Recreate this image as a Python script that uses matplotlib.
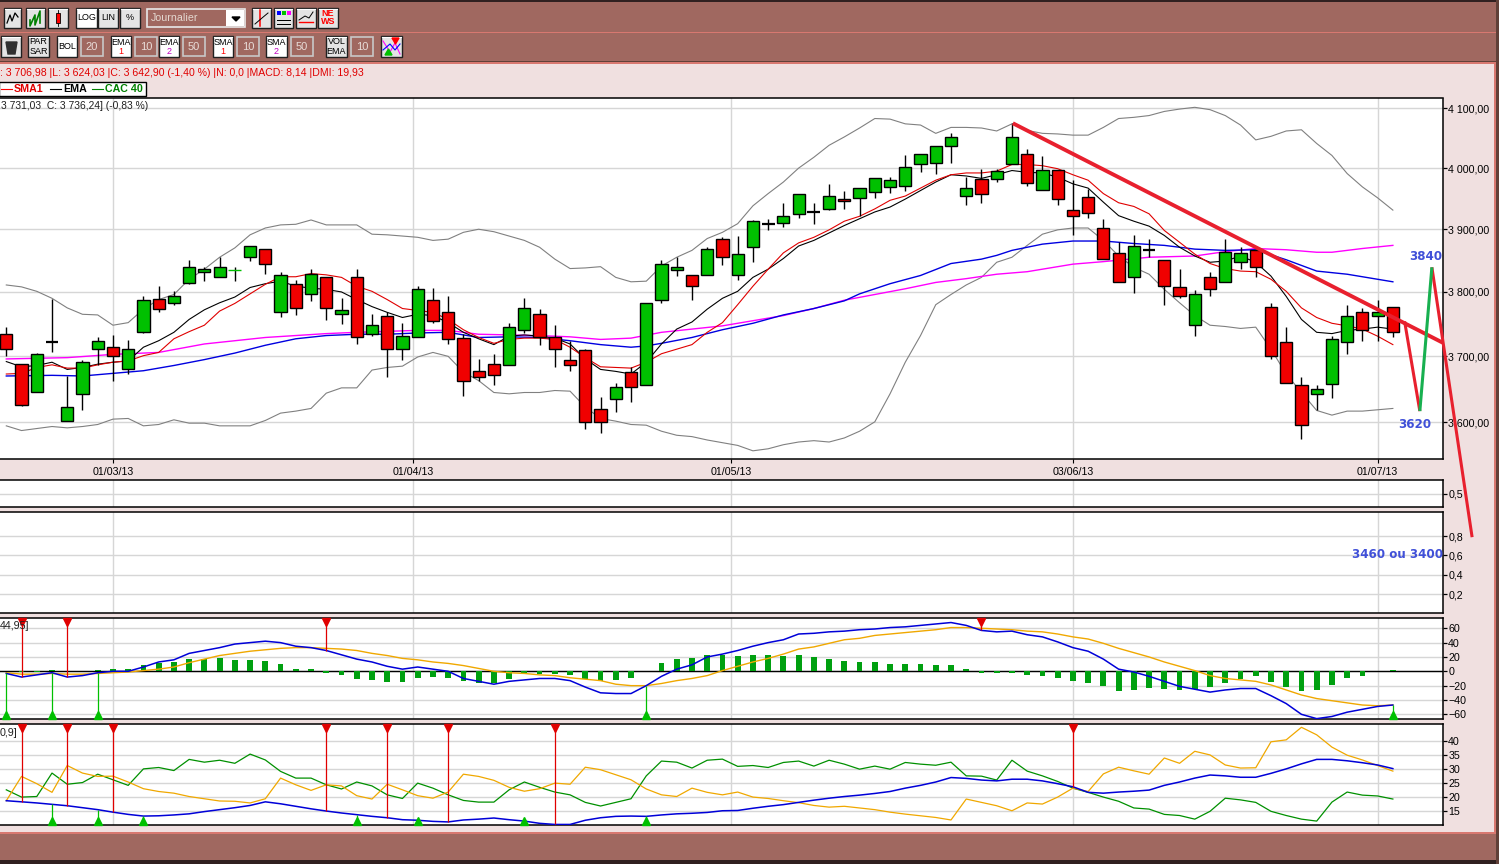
# CAC 40 daily screen : candles, bollinger, moving averages, MACD and DMI panels
import matplotlib
matplotlib.use("Agg")
import matplotlib.pyplot as plt
from matplotlib.patches import Rectangle

plt.rcParams["font.family"] = ["Liberation Sans", "DejaVu Sans"]

# candles, oldest first
opens = [3734,3688,3646,3722,3602,3642,3711,3714,3680,3738,
         3789,3782,3814,3832,3823,3835,3855,3869,3769,3813,
         3797,3823,3766,3824,3735,3763,3711,3729,3788,3768,
         3728,3677,3689,3686,3740,3766,3729,3694,3709,3620,
         3635,3676,3656,3788,3835,3827,3827,3884,3826,3871,
         3909,3910,3925,3928,3933,3949,3951,3961,3969,3971,
         4007,4008,4037,3954,3982,3982,4007,4023,3964,3997,
         3931,3952,3902,3861,3824,3866,3850,3808,3748,3823,
         3816,3847,3866,3777,3722,3656,3642,3658,3722,3768,
         3763,3777]
closes = [3711,3626,3704,3722,3623,3692,3723,3700,3711,3788,
          3774,3794,3840,3837,3840,3835,3873,3844,3826,3775,
          3829,3775,3771,3729,3749,3712,3732,3805,3755,3726,
          3663,3668,3671,3745,3775,3729,3711,3686,3600,3600,
          3653,3653,3783,3844,3840,3810,3869,3856,3860,3913,
          3909,3921,3957,3928,3954,3946,3967,3984,3980,4002,
          4023,4037,4052,3967,3957,3995,4052,3975,3997,3949,
          3921,3926,3853,3815,3873,3866,3810,3794,3797,3805,
          3864,3861,3839,3700,3659,3596,3650,3726,3763,3740,
          3768,3737]
highs = [3745,3689,3705,3789,3670,3694,3730,3733,3725,3793,
         3809,3802,3850,3839,3855,3840,3873,3869,3832,3819,
         3836,3823,3791,3837,3765,3768,3751,3810,3807,3794,
         3735,3696,3704,3751,3790,3774,3748,3723,3712,3638,
         3659,3683,3783,3850,3855,3827,3871,3887,3889,3915,
         3917,3942,3957,3943,3973,3963,3967,3984,3986,4021,
         4023,4037,4059,3985,3998,3998,4075,4031,4020,3997,
         3980,3966,3916,3879,3891,3885,3850,3836,3803,3831,
         3884,3871,3868,3783,3745,3668,3656,3731,3780,3775,
         3787,3777]
lows = [3701,3624,3645,3706,3602,3619,3687,3662,3673,3736,
        3769,3779,3812,3817,3823,3817,3849,3828,3761,3764,
        3786,3756,3750,3719,3732,3669,3695,3729,3752,3719,
        3639,3662,3656,3686,3736,3717,3684,3678,3590,3585,
        3615,3631,3656,3783,3825,3787,3827,3843,3819,3848,
        3898,3904,3919,3909,3931,3933,3922,3950,3959,3963,
        3993,3991,4009,3940,3942,3977,4006,3970,3964,3939,
        3890,3919,3853,3815,3799,3855,3779,3790,3732,3793,
        3815,3836,3824,3696,3659,3576,3619,3637,3704,3724,
        3724,3730]

# bollinger bands
boll_up = [3811,3808,3801,3790,3775,3765,3764,3748,3752,3773,
           3788,3796,3820,3836,3855,3870,3891,3902,3907,3908,
           3915,3907,3907,3907,3892,3891,3889,3887,3882,3884,
           3895,3900,3896,3889,3882,3871,3852,3837,3838,3840,
           3823,3816,3817,3841,3855,3866,3885,3895,3909,3938,
           3958,3977,4000,4018,4038,4052,4067,4083,4082,4074,
           4072,4058,4068,4068,4067,4062,4074,4063,4058,4057,
           4055,4055,4068,4083,4085,4088,4095,4099,4102,4098,
           4088,4072,4047,4053,4062,4064,4041,4021,3991,3969,
           3951,3931]
boll_low = [3595,3588,3591,3594,3592,3594,3597,3605,3606,3595,
            3597,3604,3599,3599,3595,3595,3595,3603,3614,3617,
            3621,3644,3652,3652,3679,3683,3685,3699,3706,3700,
            3676,3663,3645,3643,3645,3645,3648,3647,3623,3606,
            3602,3597,3596,3587,3581,3579,3574,3570,3566,3558,
            3561,3567,3571,3573,3571,3577,3587,3601,3643,3691,
            3732,3780,3796,3811,3823,3847,3855,3874,3892,3899,
            3902,3902,3882,3857,3839,3828,3804,3783,3763,3748,
            3746,3743,3745,3711,3673,3645,3618,3611,3617,3617,
            3619,3621]

# short averages, one value per candle
sma_10 = [3673,3674,3683,3687,3682,3682,3687,3691,3693,3701,
          3706,3727,3738,3748,3770,3782,3797,3812,3824,3824,
          3829,3827,3823,3809,3801,3788,3774,3771,3768,3757,
          3741,3729,3720,3726,3728,3728,3726,3714,3698,3684,
          3683,3682,3691,3704,3711,3718,3737,3752,3780,3809,
          3836,3862,3878,3887,3899,3913,3921,3933,3947,3954,
          3967,3980,3989,3992,3992,3995,4006,4006,4004,3999,
          3989,3980,3958,3943,3937,3925,3898,3879,3860,3845,
          3837,3833,3832,3820,3801,3775,3760,3751,3747,3742,
          3731,3718]
ema_10 = [3692,3684,3686,3691,3680,3683,3688,3691,3693,3714,
          3724,3737,3757,3772,3783,3792,3807,3813,3817,3809,
          3806,3804,3800,3788,3777,3768,3760,3765,3763,3752,
          3737,3727,3718,3731,3733,3731,3728,3719,3696,3680,
          3677,3673,3691,3719,3742,3753,3773,3790,3801,3823,
          3836,3853,3873,3882,3894,3906,3917,3928,3936,3949,
          3963,3977,3989,3987,3983,3989,3996,3993,3992,3985,
          3974,3967,3944,3922,3913,3905,3890,3871,3857,3847,
          3849,3857,3847,3825,3793,3757,3737,3735,3740,3742,
          3745,3742]

# long averages, read at every other candle or so
ema_50_idx = [0,3,5,7,9,11,13,15,17,19,21,23,25,27,29,31,33,35,37,39,41,42,43,45,47,49,
              51,53,55,56,58,60,62,64,65,66,68,70,72,74,76,78,80,82,84,86,88,90,91]
ema_50 = [3670,3671,3670,3674,3678,3686,3695,3705,3717,3727,3732,3734,3734,3736,3737,3729,
          3730,3729,3724,3718,3714,3716,3720,3729,3741,3751,3764,3774,3786,3797,3813,3826,
          3845,3852,3858,3866,3876,3881,3881,3877,3874,3868,3866,3867,3851,3833,3828,3820,3816]
sma_50_idx = [0,4,7,9,10,13,15,17,19,21,23,27,29,31,33,36,37,39,41,43,45,47,49,51,53,55,57,
              59,61,63,65,67,70,72,75,78,80,82,84,86,87,89,91]
sma_50 = [3696,3698,3703,3705,3706,3719,3724,3729,3732,3735,3737,3740,3740,3734,3733,3731,
          3730,3726,3728,3737,3742,3747,3755,3763,3774,3787,3796,3805,3815,3821,3828,3832,
          3844,3848,3855,3857,3864,3869,3867,3863,3863,3869,3874]

# hand drawn trend line and wave count
trend_idx = [66.06, 94.27]
trend_val = [4075, 3721]
down_idx = [91.77, 92.77]
down_val = [3754, 3617]
up_idx = [92.77, 93.56]
up_val = [3617, 3839]
drop_idx = [93.56, 96.2]
drop_val = [3839, 3433]

# MACD panel
macd = [-3,-8,-5,-2,-8,-6,-2,0,0,6,13,16,25,29,33,38,40,42,40,35,
        33,29,23,17,13,7,3,6,3,0,-10,-14,-18,-14,-12,-10,-10,-13,-22,-30,
        -31,-31,-20,-7,3,9,20,24,29,35,40,44,52,53,55,56,58,59,61,62,
        64,66,68,64,57,55,56,51,48,41,33,28,17,3,-1,-7,-14,-21,-25,-29,
        -26,-24,-24,-34,-45,-60,-66,-63,-57,-53,-49,-47]
signal = [-2,-4,-4,-3,-4,-4,-3,-2,-1,1,3,6,12,17,22,25,28,30,32,33,
          33,32,31,29,25,22,18,16,13,11,8,4,0,-2,-3,-5,-6,-9,-11,-13,
          -18,-20,-20,-17,-13,-10,-6,1,7,13,18,24,31,34,39,44,46,50,52,54,
          56,58,61,61,60,59,58,56,55,52,48,45,39,32,26,20,13,7,1,-6,
          -10,-12,-14,-19,-26,-33,-38,-41,-44,-47,-48,-47]
hist = [0,-1,-1,2,1,0,2,3,3,9,12,13,17,17,18,16,16,14,10,3,
        3,-2,-5,-11,-12,-15,-15,-9,-8,-9,-13,-16,-17,-11,-4,-4,-4,-5,-11,-13,
        -12,-9,0,12,17,19,23,23,21,23,23,21,23,20,17,14,13,13,10,10,
        10,9,9,3,-2,-3,-2,-5,-6,-10,-14,-16,-21,-27,-26,-23,-24,-26,-25,-22,
        -16,-11,-7,-15,-22,-27,-26,-19,-10,-6,0,2]
macd_sell = [1, 4, 21, 64]
macd_buy = [0, 3, 6, 42, 91]

# DMI panel
adx = [18.7,18.3,17.9,17.4,16.9,16.2,15.5,14.6,13.8,13.2,13.3,13.6,14,14.8,15.5,16.2,17,18.3,17.6,16.7,
       15.8,15,14.3,13.7,13.1,12.6,11.9,11.7,11.3,11.1,11.8,12.1,12.5,11.9,11.4,10.6,10.2,10.2,11.7,12.6,
       13.1,13.2,13.1,13.6,14,14.2,14.5,15.1,15.2,16,16.7,17.3,18.1,18.9,19.6,20.2,20.7,21.3,22,23.2,
       24.2,25.4,27,26.7,26.1,25.8,26.4,26.4,25.8,24.8,23.7,21.7,21.4,21.8,22.1,22.5,24.2,25.4,26.8,27.9,
       27.6,27.1,27.1,28.5,30.1,31.9,33.5,33.5,33,32.3,31.5,30.2]
di_plus = [22.6,20,20.2,28.6,24.6,25.2,28.2,26.2,24.2,30.1,30.6,29.5,33.5,32.5,33.2,32.1,35.4,33.3,29.2,26.8,
           26.8,24.4,22.9,25.4,24,20.8,19.5,25,23.2,20.8,18.8,18.2,18.2,22.6,25.4,23.5,21.8,20.8,18.1,16.8,
           18.1,19.4,27.6,32.9,32.5,30.4,33.2,33.6,31,31.3,30.6,32.4,32.9,31.1,33.2,31.8,30,31.1,30,32.4,
           31.8,31.4,32.5,27.6,27.5,26.1,33.2,29.3,27.6,25.6,23.2,21.7,20,18.5,16.1,15.7,13.8,13.4,12.1,14.9,
           19.6,19,18.1,14.9,13.4,12.1,11.4,18.2,21.8,20.7,20.4,19.3]
di_minus = [18.7,27.4,24.8,21.7,31.3,28.6,27.4,27.5,25.4,23,22,21.4,20.2,19.4,18.6,18.5,17.9,19.4,26.8,24.4,
            22.4,24.4,24,20.5,19.3,24.6,22.6,20.5,19.6,21.8,28.2,27.4,26,23.5,22.1,23,25,24.6,30.7,29.8,
            28,26.2,22.9,20.8,20.2,23.2,21.7,20.8,21.8,20,19.5,18.7,18,17,16.4,16.7,16.1,15.5,14.6,13.9,
            13.3,12.7,11.8,19.3,18.1,16.9,15.1,17.9,17.5,20,23.2,22,28.3,30.7,29.4,28.2,34,32.1,36.4,35.1,
            31.5,30.4,30.5,39.8,40.5,45,42.3,37.9,35,33.3,31.3,29.3]
dmi_sell = [1, 4, 7, 21, 25, 29, 36, 70]
dmi_buy = [3, 6, 9, 23, 27, 34, 42]

# axis labels
date_pos = [7, 26.7, 47.57, 70, 90]
date_labels = ["01/03/13", "01/04/13", "01/05/13", "03/06/13", "01/07/13"]
price_ticks = [3600, 3700, 3800, 3900, 4000, 4100]
price_labels = ["3 600,00", "3 700,00", "3 800,00", "3 900,00", "4 000,00", "4 100,00"]
vol_ticks = [0.2, 0.4, 0.6, 0.8]
vol_labels = ["0,2", "0,4", "0,6", "0,8"]
macd_ticks = [-60, -40, -20, 0, 20, 40, 60]
dmi_ticks = [15, 20, 25, 30, 35, 40]

W, H = 1499, 864
BROWN = "#a06860"
SALMON = "#d87870"
PINK = "#f0e0e0"
GRID = "#d6d6d6"
RED = "#f00000"
GREEN = "#00c000"
XLIM = (-0.413, 94.27)
PANEL_R = 1442.7
FS = 7.7

fig = plt.figure(figsize=(W / 100, H / 100), dpi=100, facecolor=PINK)

# window chrome lives on one axes in pixel coordinates
bg = fig.add_axes([0, 0, 1, 1], zorder=0)
bg.set_xlim(0, W)
bg.set_ylim(H, 0)
bg.axis("off")


def box(x0, y0, x1, y1, fc, ec="none", lw=0.0, z=1):
    bg.add_patch(Rectangle((x0, y0), x1 - x0, y1 - y0, fc=fc, ec=ec, lw=lw, zorder=z))


def button(x0, x1, y0, y1, label, fc="#e4e4e4", sub=None, sub_color="red"):
    box(x0, y0, x1, y1, fc, "#202020", 1.0, 2)
    bg.plot([x0 + 1, x1 - 1], [y0 + 1, y0 + 1], color="white", lw=0.8, zorder=3)
    if sub is None:
        bg.text((x0 + x1) / 2, (y0 + y1) / 2, label, ha="center", va="center", fontsize=6.5, zorder=4)
    else:
        bg.text((x0 + x1) / 2, y0 + 6.5, label, ha="center", va="center", fontsize=6.5, zorder=4)
        bg.text((x0 + x1) / 2, y0 + 16, sub, ha="center", va="center", fontsize=6.5, color=sub_color, zorder=4)


def field(x0, x1, y0, y1, label):
    box(x0, y0, x1, y1, BROWN, "#c8c8c8", 1.2, 2)
    bg.text((x0 + x1) / 2, (y0 + y1) / 2, label, ha="center", va="center",
            fontsize=8, color="#e8dcd8", zorder=4)


# outer frame
box(0, 0, W, 62, BROWN)
box(0, 0, W, 2, "#302020", z=2)
box(0, 31.5, W, 33, SALMON, z=2)
box(0, 60.5, W, 62, "#604038", z=2)
box(0, 62, W, 63.5, SALMON, z=2)
box(0, 831.5, W, H, BROWN)
box(0, 831.5, W, 833.5, SALMON, z=2)
box(0, 860, W, H, "#302020", z=2)
box(1494, 62, W, 834, BROWN)
box(1494, 62, 1496, 834, SALMON, z=2)
box(1496, 0, W, H, "#604038", z=3)

# first toolbar row
for x0, x1 in [(4, 21), (26, 45), (48, 68)]:
    button(x0, x1, 8, 28, "", "#e4e4e4")
bg.plot([7, 10, 12, 15, 18], [23, 15, 21, 13, 17], color="black", lw=0.9, zorder=4)
bg.plot([30, 30, 35, 35, 40, 40], [20, 26, 15, 25, 11, 23], color="#008000", lw=1.2, zorder=4)
bg.add_patch(Rectangle((56, 13), 4, 10, fc="red", ec="black", lw=0.6, zorder=4))
bg.plot([58, 58], [10, 26], color="black", lw=0.6, zorder=3.5)
button(76, 97, 8, 28, "LOG", "white")
button(98, 118, 8, 28, "LIN")
button(120, 140, 8, 28, "%")
box(147, 9, 245, 27, BROWN, "#e8e8e8", 1.2, 2)
box(226, 10, 244, 26, "white", z=3)
bg.text(151, 18, "Journalier", va="center", fontsize=7.7, color="#e4d8d0", zorder=4)
bg.fill([232, 240, 236], [17, 17, 21], color="black", zorder=4)
for x0, x1 in [(252, 271), (274, 293), (296, 316), (318, 338)]:
    button(x0, x1, 8, 28, "")
bg.plot([260, 260], [10, 26], color="red", lw=1.1, zorder=4)
bg.plot([255, 262, 268], [24, 18, 13], color="black", lw=0.7, zorder=4)
for xc, yc, col in [(279, 13, "blue"), (284, 13, "#00c000"), (289, 13, "#ff00ff")]:
    box(xc - 2, yc - 2, xc + 2, yc + 2, col, z=4)
box(277, 20, 291, 21, "black", z=4)
box(277, 24, 291, 25, "black", z=4)
bg.plot([299, 305, 309, 313], [20, 16, 18, 12], color="black", lw=0.7, zorder=4)
bg.plot([299, 313], [22, 22], color="red", lw=1.0, zorder=4)
bg.text(328, 13, "NE", ha="center", va="center", fontsize=6.5, color="red", fontweight="bold", zorder=4)
bg.text(328, 22, "WS", ha="center", va="center", fontsize=6.5, color="red", fontweight="bold", zorder=4)

# second toolbar row
button(1, 21, 36, 57, "")
bg.fill([6, 17, 15, 8], [42, 42, 54, 54], color="#303030", zorder=4)
button(28, 49, 36, 57, "PAR\nSAR")
button(57, 77, 36, 57, "BOL", "white")
field(81, 103, 37, 56, "20")
button(111, 131, 36, 57, "EMA", "white", "1", "red")
field(135, 157, 37, 56, "10")
button(159, 179, 36, 57, "EMA", "white", "2", "#c000c0")
field(183, 205, 37, 56, "50")
button(213, 233, 36, 57, "SMA", "white", "1", "red")
field(237, 259, 37, 56, "10")
button(266, 287, 36, 57, "SMA", "white", "2", "#c000c0")
field(291, 313, 37, 56, "50")
button(326, 347, 36, 57, "VOL\nEMA")
field(351, 373, 37, 56, "10")
button(381, 402, 36, 57, "")
bg.plot([383, 390, 395, 400], [41, 52, 43, 54], color="#ff00ff", lw=0.8, zorder=4)
bg.plot([383, 390, 395, 400], [50, 44, 50, 44], color="blue", lw=0.8, zorder=4)
bg.fill([392, 399, 395.5], [38, 38, 44], color="red", zorder=4)
bg.fill([385, 392, 388.5], [55, 55, 49], color="#00c000", zorder=4)

# status line and legend box
bg.text(0, 73, ": 3 706,98 |L: 3 624,03 |C: 3 642,90 (-1,40 %) |N: 0,0 |MACD: 8,14 |DMI: 19,93",
        va="center", fontsize=FS - 0.1, color="#e00000")
box(-1, 82, 146, 96, "white", "black", 1.0, 2)
bg.plot([1, 12], [89, 89], color="red", lw=0.8, zorder=3)
bg.text(14, 89, "SMA1", va="center", fontsize=FS, fontweight="bold", color="#e00000", zorder=3)
bg.plot([50, 61], [89, 89], color="black", lw=0.8, zorder=3)
bg.text(63, 89, "EMA", va="center", fontsize=FS, fontweight="bold", color="black", zorder=3)
bg.plot([92, 103], [89, 89], color="#008000", lw=0.8, zorder=3)
bg.text(105, 89, "CAC 40", va="center", fontsize=FS, fontweight="bold", color="#008000", zorder=3)


def add_panel(top, bottom, z=1):
    ax = fig.add_axes([0, 1 - bottom / H, PANEL_R / W, (bottom - top) / H], zorder=z)
    ax.set_xlim(*XLIM)
    ax.set_xticks([])
    ax.set_facecolor("white")
    ax.yaxis.tick_right()
    ax.tick_params(axis="y", length=3, width=0.9, pad=1, labelsize=FS)
    ax.set_axisbelow(True)
    for side in ["right", "top", "bottom"]:
        ax.spines[side].set_linewidth(1.1)
    ax.spines["left"].set_visible(False)
    for d in date_pos:
        ax.axvline(d, color=GRID, lw=1.0, zorder=0.5)
    return ax


# main price panel, log scale as on the screen
ax = add_panel(98.5, 458.5, z=2)
ax.set_yscale("log")
ax.set_ylim(3546.7, 4117)
ax.minorticks_off()
ax.set_yticks(price_ticks)
ax.set_yticklabels(price_labels)
ax.yaxis.set_minor_locator(matplotlib.ticker.NullLocator())
ax.yaxis.set_minor_formatter(matplotlib.ticker.NullFormatter())
ax.grid(axis="y", color=GRID, lw=1.0, zorder=0.5)
ax.set_xticks(date_pos)
ax.set_xticklabels(date_labels, fontsize=FS)
ax.tick_params(axis="x", length=3, width=0.8, pad=3)

n = len(opens)
idx = list(range(n))
ax.plot(idx, boll_up, color="#808080", lw=0.8, zorder=2)
ax.plot(idx, boll_low, color="#808080", lw=0.8, zorder=2)
ax.plot(sma_50_idx, sma_50, color="#ff00ff", lw=1.0, zorder=2.1)
ax.plot(ema_50_idx, ema_50, color="#0000e0", lw=1.0, zorder=2.2)
ax.plot(idx, ema_10, color="black", lw=0.8, zorder=2.3)
ax.plot(idx, sma_10, color="#e00000", lw=0.8, zorder=2.4)

for i in idx:
    ax.vlines(i, lows[i], highs[i], color="black", lw=1.0, zorder=3)
    if opens[i] == closes[i]:
        col = GREEN if i == 15 else "black"
        ax.hlines(opens[i], i - 0.42, i + 0.42, color=col, lw=1.6 if col == "black" else 1.0, zorder=3.1)
    else:
        low_body = min(opens[i], closes[i])
        col = GREEN if closes[i] > opens[i] else RED
        ax.bar(i, abs(closes[i] - opens[i]), width=0.8, bottom=low_body, color=col,
               edgecolor="black", linewidth=1.0, zorder=3.2)

ax.plot(trend_idx, trend_val, color="#e8202e", lw=2.8, solid_capstyle="butt", zorder=5, clip_on=False)
ax.plot(down_idx, down_val, color="#e8202e", lw=2.2, solid_capstyle="butt", zorder=5, clip_on=False)
ax.plot(up_idx, up_val, color="#18b050", lw=2.2, solid_capstyle="butt", zorder=5.1, clip_on=False)
ax.plot(drop_idx, drop_val, color="#e8202e", lw=2.2, solid_capstyle="butt", zorder=5, clip_on=False)
ax.text(0.001, 0.98, "3 731,03  C: 3 736,24] (-0,83 %)", transform=ax.transAxes,
        va="center", fontsize=7.4, color="#202020")

# empty panels
ax_a = add_panel(480.3, 507.3)
ax_a.set_ylim(0, 1)
ax_a.set_yticks([0.5])
ax_a.set_yticklabels(["0,5"])
ax_a.grid(axis="y", color=GRID, lw=1.0, zorder=0.5)

ax_v = add_panel(512.3, 613.3)
ax_v.set_ylim(0, 1.047)
ax_v.set_yticks(vol_ticks)
ax_v.set_yticklabels(vol_labels)
ax_v.grid(axis="y", color=GRID, lw=1.0, zorder=0.5)

# MACD
ax_m = add_panel(618.3, 719)
ax_m.set_ylim(-66.5, 73.9)
ax_m.set_yticks(macd_ticks)
ax_m.grid(axis="y", color=GRID, lw=1.0, zorder=0.5)
ax_m.axhline(0, color="black", lw=1.0, zorder=1.5)
ax_m.bar(idx, hist, width=0.38, color="#00a010", zorder=2)
ax_m.plot(idx, signal, color="#f0a800", lw=1.0, zorder=3)
ax_m.plot(idx, macd, color="#0000d8", lw=1.1, zorder=3.1)
trans = ax_m.get_xaxis_transform()
for i in macd_sell:
    ax_m.vlines(i, macd[i], 73.9, color="#e00000", lw=0.9, zorder=4)
    ax_m.plot(i, 0.965, "v", color="#e00000", ms=6, transform=trans, clip_on=False, zorder=5)
for i in macd_buy:
    ax_m.vlines(i, -66.5, macd[i], color="#00c000", lw=0.9, zorder=4)
    ax_m.plot(i, 0.035, "^", color="#00c000", ms=6, transform=trans, clip_on=False, zorder=5)
ax_m.text(0.0, 0.92, "44,95]", transform=ax_m.transAxes, va="center", fontsize=FS, color="#202020", zorder=6)

# DMI
ax_d = add_panel(724.3, 825)
ax_d.set_ylim(10, 46.07)
ax_d.set_yticks(dmi_ticks)
ax_d.grid(axis="y", color=GRID, lw=1.0, zorder=0.5)
ax_d.plot(idx, di_plus, color="#009000", lw=0.9, zorder=3)
ax_d.plot(idx, di_minus, color="#f0a800", lw=0.9, zorder=3.1)
ax_d.plot(idx, adx, color="#0000d8", lw=1.1, zorder=3.2)
trans = ax_d.get_xaxis_transform()
for i in dmi_sell:
    ax_d.vlines(i, adx[i], 46.07, color="#e00000", lw=0.9, zorder=4)
    ax_d.plot(i, 0.965, "v", color="#e00000", ms=6, transform=trans, clip_on=False, zorder=5)
for i in dmi_buy:
    ax_d.vlines(i, 10, adx[i], color="#00c000", lw=0.9, zorder=4)
    ax_d.plot(i, 0.035, "^", color="#00c000", ms=6, transform=trans, clip_on=False, zorder=5)
ax_d.text(0.0, 0.915, "0,9]", transform=ax_d.transAxes, va="center", fontsize=FS, color="#202020", zorder=6)

# target labels written on the screenshot
for xp, yp, txt in [(1426, 256, "3840"), (1415, 425, "3620"), (1398, 554, "3460 ou 3400")]:
    fig.text(xp / W, 1 - yp / H, txt, ha="center", va="center", fontsize=8.6, fontweight="bold",
             family=["DejaVu Sans"], color="#4050d8", zorder=10)

fig.savefig("out.png", dpi=100, facecolor=PINK)
